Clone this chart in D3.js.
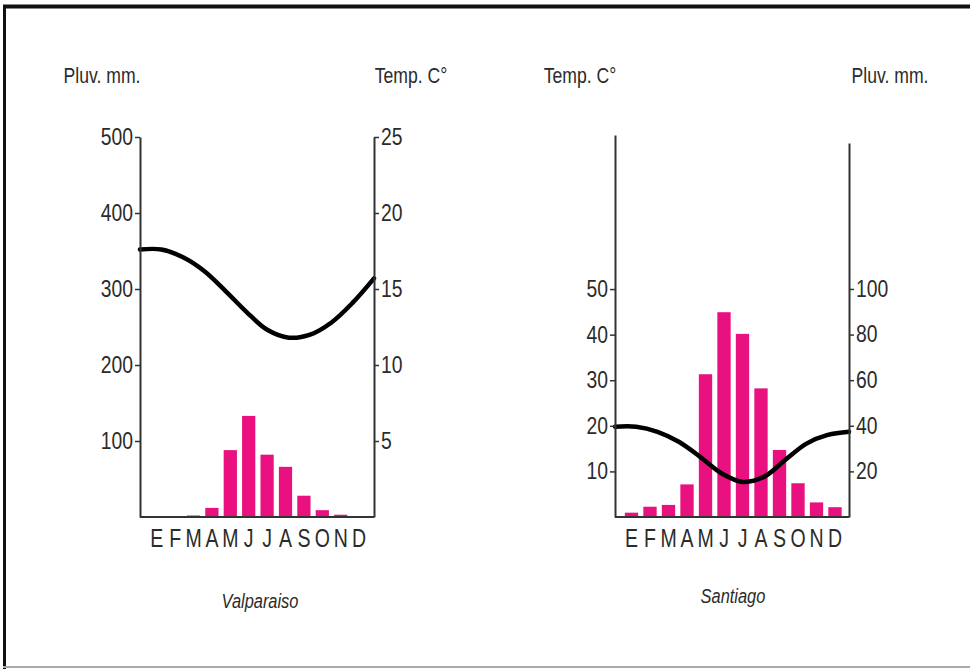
<!DOCTYPE html>
<html>
<head>
<meta charset="utf-8">
<script src="https://cdn.jsdelivr.net/npm/d3@7"></script>
<style>
  html, body { margin: 0; padding: 0; background: #fff; }
  svg { display: block; }
  text { font-family: "Liberation Sans", Arial, sans-serif; fill: #2b2b2b; }
</style>
</head>
<body>
<svg id="chart" width="970" height="669"></svg>
<script>
// ---- data ----
const months = ["E","F","M","A","M","J","J","A","S","O","N","D"];

// Valparaiso
const valpoRain = [0, 0, 2, 12, 88, 133, 82, 66, 28, 9, 3, 0];          // mm
const valpoTemp = [17.6, 17.6, 17.1, 16.2, 14.9, 13.5, 12.3, 11.8, 12.0, 12.8, 14.1, 15.7]; // °C
const valpoRainTicks = [100, 200, 300, 400, 500];
const valpoTempTicks = [5, 10, 15, 20, 25];

// Santiago
const santRain = [1.9, 4.5, 5.3, 14.3, 62.6, 89.8, 80.3, 56.4, 29.4, 14.8, 6.4, 4.3]; // mm
const santTemp = [19.8, 19.8, 18.7, 16.5, 13.2, 9.6, 7.7, 8.8, 12.5, 16.1, 18.0, 18.7];  // °C
const santTempTicks = [10, 20, 30, 40, 50];
const santRainTicks = [20, 40, 60, 80, 100];

const titles = { rain: "Pluv. mm.", temp: "Temp. C°" };
const cities = ["Valparaiso", "Santiago"];

// ---- drawing ----
const svg = d3.select("#chart");
const BAR = "#e8117f";
const AXIS = "#333";

// frame
svg.append("line").attr("x1", 3).attr("x2", 970).attr("y1", 6.5).attr("y2", 6.5)
  .attr("stroke", "#111").attr("stroke-width", 4);
svg.append("line").attr("x1", 4.5).attr("x2", 4.5).attr("y1", 5).attr("y2", 669)
  .attr("stroke", "#111").attr("stroke-width", 3);
svg.append("line").attr("x1", 3).attr("x2", 970).attr("y1", 667).attr("y2", 667)
  .attr("stroke", "#aaa").attr("stroke-width", 2);

function condense(sel, factor) {
  sel.each(function () {
    const len = this.getComputedTextLength();
    d3.select(this).attr("textLength", len * factor).attr("lengthAdjust", "spacingAndGlyphs");
  });
}

function styleAxis(g, fs) {
  g.select(".domain").attr("stroke", AXIS).attr("stroke-width", 2);
  g.selectAll(".tick line").attr("stroke", AXIS).attr("stroke-width", 1.5);
  g.selectAll(".tick text").attr("font-size", fs).attr("fill", "#2b2b2b")
    .attr("font-family", '"Liberation Sans", Arial, sans-serif');
  condense(g.selectAll(".tick text"), 0.84);
}

function drawChart(cfg) {
  const g = svg.append("g");
  const y0 = 517;
  const yRain = d3.scaleLinear().domain([0, cfg.rainMax]).range([y0, cfg.rainTop]);
  const yTemp = d3.scaleLinear().domain([0, cfg.tempMax]).range([y0, cfg.tempTop]);

  const xBand = d3.scaleBand().domain(d3.range(12))
    .range([cfg.x0 + cfg.padL, cfg.x1 - cfg.padR]).paddingInner(0.28).paddingOuter(0.14);
  const xPoint = d3.scalePoint().domain(d3.range(12)).range([cfg.x0, cfg.x1]);

  // bars
  g.selectAll("rect.bar").data(cfg.rain).join("rect")
    .attr("class", "bar")
    .attr("x", (d, i) => xBand(i))
    .attr("width", xBand.bandwidth())
    .attr("y", d => yRain(d))
    .attr("height", d => y0 - yRain(d))
    .attr("fill", BAR);

  // baseline
  g.append("line").attr("x1", cfg.x0).attr("x2", cfg.x1)
    .attr("y1", yRain(0)).attr("y2", yRain(0))
    .attr("stroke", AXIS).attr("stroke-width", 2);

  // temperature curve
  const line = d3.line().x((d, i) => xPoint(i)).y(d => yTemp(d)).curve(d3.curveCatmullRom);
  g.append("path").datum(cfg.temp).attr("d", line)
    .attr("fill", "none").attr("stroke", "#000").attr("stroke-width", 4.5)
    .attr("stroke-linecap", "round");

  // axes
  const leftScale = cfg.leftIsRain ? yRain : yTemp;
  const rightScale = cfg.leftIsRain ? yTemp : yRain;
  const gl = g.append("g").attr("transform", `translate(${cfg.x0},0)`)
    .call(d3.axisLeft(leftScale).tickValues(cfg.leftTicks).tickSize(5).tickSizeOuter(0).tickPadding(2));
  styleAxis(gl, 23);
  const gr = g.append("g").attr("transform", `translate(${cfg.x1},0)`)
    .call(d3.axisRight(rightScale).tickValues(cfg.rightTicks).tickSize(5).tickSizeOuter(0).tickPadding(2));
  styleAxis(gr, 23);

  // month labels
  const gm = g.append("g").attr("transform", `translate(0,${y0})`)
    .call(d3.axisBottom(xBand).tickSize(0).tickPadding(12).tickFormat(i => months[i]));
  gm.select(".domain").remove();
  gm.selectAll(".tick text").attr("font-size", 25).attr("fill", "#333")
    .attr("font-family", '"Liberation Sans", Arial, sans-serif');
  condense(gm.selectAll(".tick text"), 0.78);

  // titles
  const t1 = g.append("text").attr("x", cfg.titleLX).attr("y", 83).attr("text-anchor", "middle")
    .attr("font-size", 22).text(cfg.leftTitle);
  const t2 = g.append("text").attr("x", cfg.titleRX).attr("y", 83).attr("text-anchor", "middle")
    .attr("font-size", 22).text(cfg.rightTitle);
  condense(t1, 0.8); condense(t2, 0.8);

  const nm = g.append("text").attr("x", cfg.nameX).attr("y", cfg.nameY).attr("text-anchor", "middle")
    .attr("font-size", 20).attr("font-style", "italic").text(cfg.name);
  condense(nm, 0.82);
}

drawChart({
  x0: 140, x1: 374, padL: 7.5, padR: 5.7,
  rain: valpoRain, temp: valpoTemp,
  rainMax: 500, rainTop: 137, tempMax: 25, tempTop: 137,
  leftIsRain: true, leftTicks: valpoRainTicks, rightTicks: valpoTempTicks,
  leftTitle: titles.rain, rightTitle: titles.temp, titleLX: 102, titleRX: 411,
  name: cities[0], nameX: 260, nameY: 608
});

drawChart({
  x0: 615, x1: 849, padL: 7.25, padR: 4.75,
  rain: santRain, temp: santTemp,
  rainMax: 164, rainTop: 143, tempMax: 83.8, tempTop: 135,
  leftIsRain: false, leftTicks: santTempTicks, rightTicks: santRainTicks,
  leftTitle: titles.temp, rightTitle: titles.rain, titleLX: 580, titleRX: 890,
  name: cities[1], nameX: 733, nameY: 603
});
</script>
</body>
</html>
